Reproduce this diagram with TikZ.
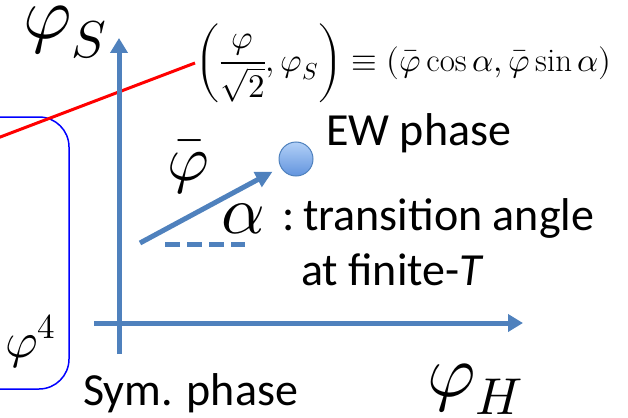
\documentclass[tikz,border=0pt]{standalone}
\usepackage{fontspec}
\usepackage{unicode-math}
\setmathfont{Latin Modern Math}
\newfontfamily\calibri{Carlito}
\usetikzlibrary{arrows.meta,positioning}

\definecolor{axisblue}{RGB}{79,129,189}
\definecolor{balltop}{RGB}{178,208,247}
\definecolor{ballbot}{RGB}{98,148,222}

\begin{document}
\begin{tikzpicture}[
  x=1pt, y=-1pt,
  % arrows and lines in the slide blue
  axis/.style={draw=axisblue, line width=5pt,
    -{Triangle[length=15pt,width=17pt]}},
  vecarrow/.style={draw=axisblue, line width=5pt,
    -{Triangle[length=17pt,width=16pt]}, shorten >=9pt},
  refline/.style={draw=axisblue, line width=5pt, dash pattern=on 15pt off 7pt},
  ball/.style={circle, minimum size=34pt, inner sep=0pt,
    draw=axisblue, line width=1pt, top color=balltop, bottom color=ballbot},
  % text styles
  txt/.style={font=\calibri\fontsize{46}{55}\selectfont,
    inner sep=0pt, anchor=base west},
  bigmath/.style={font=\fontsize{74}{74}\selectfont,
    inner sep=0pt, anchor=base west},
]

% fixed canvas, pixel units
\useasboundingbox (0,0) rectangle (628,417);

% ---------------------------------------------------------------
% Potential box (cut at left edge) and the red pointer line
% ---------------------------------------------------------------
\draw[blue, line width=1.5pt, rounded corners=30pt]
  (-40,117) rectangle (69,389);
\node[anchor=base west, inner sep=0pt, font=\fontsize{50}{50}\selectfont]
  (quart) at (5,357) {$\varphi^4$};

\node[anchor=west, inner sep=0pt, font=\fontsize{33}{33}\selectfont]
  (form) at (195,63)
  {$\displaystyle\left(\frac{\varphi}{\sqrt{2}},\varphi_S\right)
   \equiv(\bar\varphi\cos\alpha,\bar\varphi\sin\alpha)$};
\coordinate (redfar) at (-5,139);
\draw[red, line width=3pt] (redfar) -- (form.west);

% ---------------------------------------------------------------
% Field-space axes
% ---------------------------------------------------------------
\coordinate (vbot) at (119,354);
\coordinate (vtop) at (119,38);
\coordinate (hleft) at (94,323);
\coordinate (hright) at (523,323);
\draw[axis] (vbot) -- (vtop);
\draw[axis] (hleft) -- (hright);

\node[bigmath] (phiS) at (23,39) {$\varphi_S$};
\node[bigmath] (phiH) at (427,396) {$\varphi_H$};
\node[txt] (sym) at (83,405) {Sym. phase};

% ---------------------------------------------------------------
% EW vacuum, field vector and angle
% ---------------------------------------------------------------
\node[ball] (ew) at (296,159) {};
\node[txt] (ewlab) at (326,145) {EW phase};

\coordinate (vecstart) at (140,243);
\draw[vecarrow] (vecstart) -- (ew);
\coordinate (dashL) at (165,244);
\coordinate (dashR) at (245,244);
\draw[refline] (dashL) -- (dashR);

\node[anchor=base west, inner sep=0pt, font=\fontsize{64}{64}\selectfont]
  (phibar) at (167,180) {$\bar\varphi$};
\node[anchor=base west, inner sep=0pt, font=\fontsize{68}{68}\selectfont]
  (alpha) at (221,233) {$\alpha$};
\node[txt] (colon) at (282,230) {:};
\node[txt] (trans) at (303,230) {transition angle};
\node[txt] (finite) at (301,285) {at finite-\textit{T}};

\end{tikzpicture}
\end{document}
